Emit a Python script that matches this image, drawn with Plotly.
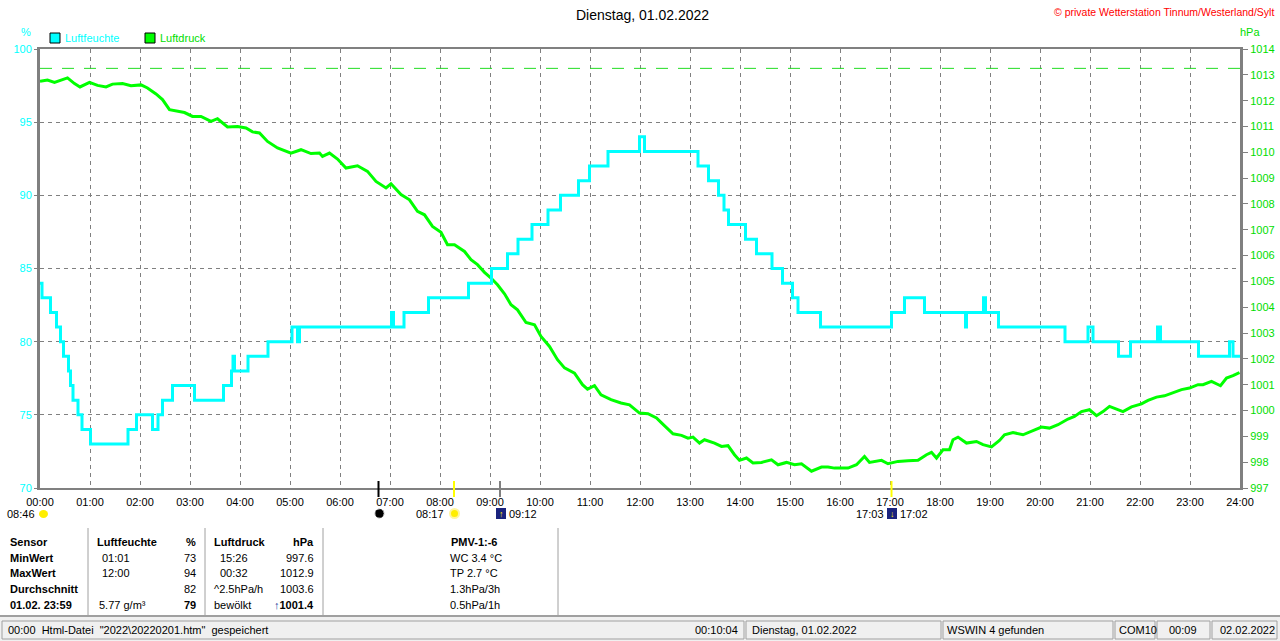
import plotly.graph_objects as go

# Luftfeuchte (%), Stufenwerte: Zeitpunkt in Stunden, Wert ab diesem Zeitpunkt
hum_time = [0.00, 0.04, 0.21, 0.33, 0.41, 0.47, 0.57, 0.61, 0.66, 0.76, 0.84, 1.01,
            1.76, 1.93, 2.25, 2.36, 2.45, 2.65, 3.09, 3.67, 3.83, 3.86, 3.89, 4.16,
            4.56, 5.04, 5.15, 5.19, 7.03, 7.07, 7.28, 7.77, 8.57, 9.03, 9.35, 9.56,
            9.84, 10.16, 10.41, 10.77, 10.99, 11.36, 11.99, 12.09, 13.16, 13.37, 13.57,
            13.68, 13.77, 14.11, 14.33, 14.64, 14.85, 15.05, 15.16, 15.61, 17.03, 17.29,
            17.69, 18.51, 18.53, 18.87, 18.91, 19.17, 20.50, 20.96, 21.06, 21.57, 21.81,
            22.35, 22.41, 23.17, 23.79, 23.86, 24.00]
hum_value = [84, 83, 82, 81, 80, 79, 78, 77, 76, 75, 74, 73,
             74, 75, 74, 75, 76, 77, 76, 77, 78, 79, 78, 79,
             80, 81, 80, 81, 82, 81, 82, 83, 84, 85, 86, 87,
             88, 89, 90, 91, 92, 93, 94, 93, 92, 91, 90,
             89, 88, 87, 86, 85, 84, 83, 82, 81, 82, 83,
             82, 81, 82, 83, 82, 81, 80, 81, 80, 79, 80,
             81, 80, 79, 80, 79, 79]

# Luftdruck (hPa)
press_time = [0.00, 0.15, 0.29, 0.45, 0.55, 0.69, 0.80, 0.99, 1.15, 1.32, 1.45, 1.65,
              1.82, 2.02, 2.15, 2.32, 2.45, 2.59, 2.75, 2.89, 3.05, 3.22, 3.42, 3.55,
              3.75, 3.95, 4.12, 4.25, 4.39, 4.55, 4.75, 5.02, 5.22, 5.42, 5.59, 5.65,
              5.79, 5.95, 6.12, 6.35, 6.55, 6.72, 6.92, 7.02, 7.22, 7.39, 7.55, 7.69,
              7.85, 8.02, 8.15, 8.29, 8.49, 8.62, 8.75, 8.89, 9.02, 9.15, 9.29, 9.42,
              9.55, 9.72, 9.89, 10.02, 10.19, 10.35, 10.49, 10.69, 10.85, 10.95, 11.09,
              11.22, 11.42, 11.62, 11.79, 11.99, 12.16, 12.33, 12.43, 12.56, 12.66, 12.83,
              12.96, 13.06, 13.19, 13.29, 13.49, 13.63, 13.76, 13.89, 13.99, 14.13, 14.26,
              14.43, 14.63, 14.76, 14.93, 15.09, 15.23, 15.43, 15.63, 15.76, 15.89, 16.03,
              16.16, 16.33, 16.49, 16.59, 16.83, 16.96, 17.16, 17.36, 17.56, 17.73, 17.83,
              17.93, 18.06, 18.19, 18.26, 18.36, 18.53, 18.73, 18.86, 19.03, 19.19, 19.29,
              19.46, 19.66, 19.83, 20.03, 20.19, 20.36, 20.56, 20.69, 20.83, 20.99, 21.13,
              21.26, 21.39, 21.53, 21.66, 21.83, 22.03, 22.16, 22.33, 22.49, 22.66, 22.83,
              22.99, 23.16, 23.26, 23.43, 23.61, 23.73, 23.86, 23.99]
press_value = [1012.75, 1012.80, 1012.71, 1012.80, 1012.88, 1012.66, 1012.53, 1012.71, 1012.59,
               1012.53, 1012.64, 1012.66, 1012.58, 1012.61, 1012.49, 1012.26, 1012.04, 1011.65,
               1011.58, 1011.54, 1011.39, 1011.39, 1011.20, 1011.30, 1010.98, 1011.00, 1010.94,
               1010.79, 1010.75, 1010.42, 1010.17, 1009.97, 1010.10, 1009.95, 1009.97, 1009.84,
               1009.97, 1009.74, 1009.39, 1009.48, 1009.26, 1008.87, 1008.62, 1008.78, 1008.36,
               1008.16, 1007.71, 1007.58, 1007.13, 1006.90, 1006.42, 1006.42, 1006.16, 1005.84,
               1005.65, 1005.35, 1005.13, 1004.87, 1004.52, 1004.10, 1003.90, 1003.41, 1003.32,
               1002.87, 1002.48, 1001.97, 1001.65, 1001.45, 1001.00, 1000.83, 1000.96, 1000.61,
               1000.42, 1000.29, 1000.22, 999.90, 999.88, 999.71, 999.52, 999.28, 999.10,
               999.04, 998.93, 998.97, 998.74, 998.87, 998.74, 998.61, 998.64, 998.29, 998.07,
               998.16, 997.97, 997.99, 998.09, 997.90, 997.99, 997.90, 997.94, 997.65, 997.81,
               997.81, 997.77, 997.77, 997.77, 997.90, 998.22, 997.99, 998.07, 997.94, 998.03,
               998.06, 998.07, 998.29, 998.38, 998.16, 998.48, 998.48, 998.87, 998.97, 998.74,
               998.80, 998.68, 998.59, 998.84, 999.06, 999.15, 999.06, 999.19, 999.36, 999.32,
               999.45, 999.67, 999.77, 999.96, 1000.03, 999.80, 999.96, 1000.16, 1000.06,
               999.96, 1000.14, 1000.26, 1000.39, 1000.52, 1000.57, 1000.70, 1000.81, 1000.87,
               1001.00, 1001.00, 1001.13, 1000.96, 1001.26, 1001.35, 1001.47]

ref_pressure = 1013.25
hour_labels = ["%02d:00" % h for h in range(25)]

# Sonne/Mond Ereignisse (Stunden) und ihre Farben
event_time = [6.77, 8.28, 9.2, 17.03]
event_color = ["#000000", "#ffff00", "#808080", "#ffff00"]

# Tabelle unter dem Diagramm
table_rows = ["Sensor", "MinWert", "MaxWert", "Durchschnitt", "01.02. 23:59"]
hum_times = ["", "01:01", "12:00", "", ""]
hum_stats = ["%", "73", "94", "82", "<b>79</b>"]
press_times = ["", "15:26", "00:32", "^2.5hPa/h", "bewölkt"]
press_stats = ["hPa", "997.6", "1012.9", "1003.6",
               "<b><span style='color:#1a3a9a'>↑</span>1001.4</b>"]
pmv_lines = ["<b>PMV-1:-6</b>", "WC 3.4 °C", "TP 2.7 °C", "1.3hPa/3h", "0.5hPa/1h"]

FONT = "Liberation Sans, Arial, sans-serif"
L, R, T, B = 40, 1240, 49, 488


def px(x):
    return (x - L) / (R - L)


def py(y):
    return (B - y) / (B - T)


fig = go.Figure()
fig.add_trace(go.Scatter(x=[0, 24], y=[ref_pressure, ref_pressure], mode="lines",
                         line=dict(color="#22dd22", width=1, dash="12px,10px"), yaxis="y"))
fig.add_trace(go.Scatter(x=press_time, y=press_value, mode="lines",
                         line=dict(color="#00ff00", width=3), yaxis="y"))
fig.add_trace(go.Scatter(x=hum_time, y=hum_value, mode="lines",
                         line=dict(color="#00ffff", width=3, shape="hv"), yaxis="y2"))

ann = []
shapes = []


def text(x, y, s, color="black", size=11, anchor="left"):
    ann.append(dict(x=px(x), y=py(y), xref="paper", yref="paper", text=s, showarrow=False,
                    xanchor=anchor, yanchor="middle", font=dict(family=FONT, size=size, color=color)))


# Titel und Kopfzeile
text(642, 15, "Dienstag, 01.02.2022", size=14, anchor="center")
text(1276, 12, "© private Wetterstation Tinnum/Westerland/Sylt", color="#ff0000", size=10.5, anchor="right")
text(26, 32, "%", color="#00ffff", anchor="center")
text(1250, 32, "hPa", color="#00dd00", anchor="center")

# Legende
shapes.append(dict(type="rect", xref="paper", yref="paper", x0=px(50), x1=px(60), y0=py(33), y1=py(43),
                   fillcolor="#00ffff", line=dict(color="black", width=1)))
text(63, 38, "Luftfeuchte", color="#00ffff")
shapes.append(dict(type="rect", xref="paper", yref="paper", x0=px(145), x1=px(155), y0=py(33), y1=py(43),
                   fillcolor="#00ff00", line=dict(color="black", width=1)))
text(158, 38, "Luftdruck", color="#00dd00")

# Ereignis-Striche an der Zeitachse
for t, c in zip(event_time, event_color):
    shapes.append(dict(type="line", xref="x", yref="paper", x0=t, x1=t, y0=py(497), y1=py(481),
                       line=dict(color=c, width=2)))

# Sonne/Mond Beschriftungen
text(37, 514, "08:46", anchor="right")
shapes.append(dict(type="circle", xref="paper", yref="paper", x0=px(39), x1=px(48), y0=py(518), y1=py(510),
                   fillcolor="#ffee00", line=dict(width=0)))
shapes.append(dict(type="circle", xref="paper", yref="paper", x0=px(375), x1=px(384), y0=py(518), y1=py(509),
                   fillcolor="black", line=dict(color="#aaaaaa", width=1, dash="dot")))
text(446, 514, "08:17", anchor="right")
shapes.append(dict(type="circle", xref="paper", yref="paper", x0=px(450), x1=px(459), y0=py(518), y1=py(509),
                   fillcolor="#ffee00", line=dict(color="#fff59d", width=2)))
for x0 in (496, 887):
    shapes.append(dict(type="rect", xref="paper", yref="paper", x0=px(x0), x1=px(x0 + 10),
                       y0=py(519), y1=py(508), fillcolor="#1a237e", line=dict(width=0)))
text(501, 514, "↑", color="#ffee00", size=9, anchor="center")
text(892, 514, "↓", color="#ffee00", size=9, anchor="center")
text(507, 514, "09:12")
text(886, 514, "17:03", anchor="right")
text(898, 514, "17:02")

# Tabelle
row_y = [542, 558, 573, 589, 605]
for i, y in enumerate(row_y):
    text(8, y, "<b>%s</b>" % table_rows[i])
    if i == 0:
        text(95, y, "<b>Luftfeuchte</b>")
        text(198, y, "<b>%</b>", anchor="right")
        text(212, y, "<b>Luftdruck</b>")
        text(316, y, "<b>hPa</b>", anchor="right")
        text(474, y, pmv_lines[i], anchor="center")
        continue
    text(100 if i < 4 else 97, y, hum_times[i] if i < 4 else "5.77 g/m³")
    text(198, y, hum_stats[i], anchor="right")
    text(218 if i < 3 else 212, y, press_times[i])
    text(316, y, press_stats[i], anchor="right")
    text(448, y, pmv_lines[i])

for x in (88, 205, 323, 558):
    shapes.append(dict(type="line", xref="paper", yref="paper", x0=px(x), x1=px(x), y0=py(528), y1=py(616),
                       line=dict(color="#a0a0a0", width=1)))

# Statuszeile
shapes.append(dict(type="rect", xref="paper", yref="paper", x0=px(0), x1=px(1280), y0=py(617), y1=py(641),
                   fillcolor="#f0f0f0", line=dict(width=0), layer="below"))
shapes.append(dict(type="line", xref="paper", yref="paper", x0=px(0), x1=px(1280), y0=py(616), y1=py(616),
                   line=dict(color="#a0a0a0", width=2)))
for x0, x1 in [(2, 744), (746, 941), (943, 1113), (1115, 1155), (1157, 1210), (1212, 1277)]:
    shapes.append(dict(type="rect", xref="paper", yref="paper", x0=px(x0), x1=px(x1), y0=py(621), y1=py(639),
                       line=dict(color="#a0a0a0", width=1)))
text(6, 630, "00:00\u00a0\u00a0Html-Datei\u00a0\u00a0\"2022\\20220201.htm\"\u00a0\u00a0gespeichert")
text(740, 630, "00:10:04", anchor="right")
text(750, 630, "Dienstag, 01.02.2022")
text(945, 630, "WSWIN 4 gefunden")
text(1117, 630, "COM10")
text(1183, 630, "00:09", anchor="center")
text(1218, 630, "02.02.2022")

fig.update_layout(
    width=1280, height=641, autosize=False,
    margin=dict(l=40, r=40, t=49, b=153),
    paper_bgcolor="white", plot_bgcolor="white",
    showlegend=False,
    font=dict(family=FONT, size=11, color="black"),
    xaxis=dict(range=[0, 24], tickvals=list(range(25)), ticktext=hour_labels,
               showgrid=True, gridcolor="#808080", griddash="4px,4px", gridwidth=1,
               showline=True, linecolor="#808080", linewidth=2, mirror=True,
               ticks="", ticklabelstandoff=3, zeroline=False, automargin=False,
               tickfont=dict(family=FONT, size=11, color="black")),
    yaxis=dict(range=[997, 1014], dtick=1, side="right", showgrid=False, zeroline=False,
               showline=True, linecolor="#808080", linewidth=3, mirror=True,
               ticks="outside", ticklen=5, tickcolor="#808080", automargin=False,
               tickfont=dict(family=FONT, size=11, color="#00dd00")),
    yaxis2=dict(range=[70, 100], dtick=5, side="left", overlaying="y",
                showgrid=True, gridcolor="#808080", griddash="4px,4px", gridwidth=1,
                zeroline=False, showline=False, automargin=False,
                ticks="outside", ticklen=5, tickcolor="#808080",
                tickfont=dict(family=FONT, size=11, color="#00ffff")),
    annotations=ann,
    shapes=shapes,
)

fig.write_html("out.html", config={"responsive": False, "displayModeBar": False},
               post_script="document.body.style.margin='0px';")
